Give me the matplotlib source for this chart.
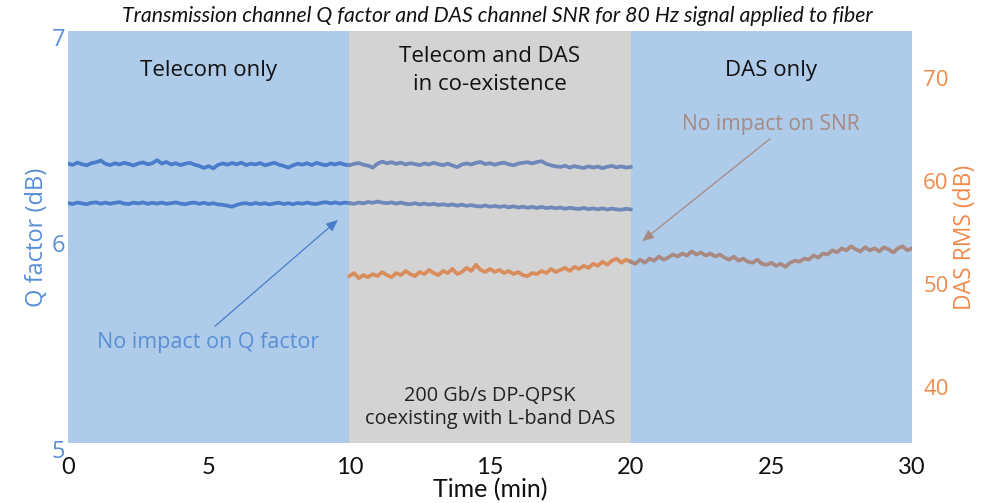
import matplotlib
matplotlib.use("Agg")
import matplotlib.pyplot as plt
from matplotlib.transforms import ScaledTranslation
import numpy as np

# ---- data ----
q_time_start, q_time_end = 0, 20
das_time_start, das_time_end = 10, 30

q_upper = [
    6.356, 6.350, 6.361, 6.353, 6.348, 6.358, 6.363, 6.371, 6.355, 6.349,
    6.358, 6.352, 6.360, 6.354, 6.347, 6.357, 6.362, 6.353, 6.358, 6.373,
    6.356, 6.364, 6.352, 6.358, 6.349, 6.356, 6.360, 6.351, 6.345, 6.335,
    6.344, 6.333, 6.350, 6.357, 6.351, 6.359, 6.353, 6.361, 6.349, 6.356,
    6.352, 6.359, 6.348, 6.354, 6.360, 6.351, 6.345, 6.337, 6.348, 6.356,
    6.351, 6.358, 6.349, 6.360, 6.353, 6.348, 6.357, 6.352, 6.359, 6.351,
    6.349, 6.355, 6.359, 6.351, 6.346, 6.337, 6.356, 6.366, 6.358, 6.363,
    6.355, 6.361, 6.352, 6.358, 6.354, 6.349, 6.357, 6.352, 6.360, 6.353,
    6.349, 6.356, 6.347, 6.339, 6.352, 6.357, 6.352, 6.360, 6.364, 6.354,
    6.358, 6.351, 6.357, 6.361, 6.353, 6.348, 6.356, 6.360, 6.363, 6.357,
    6.364, 6.368, 6.355, 6.348, 6.343, 6.340, 6.346, 6.337, 6.344, 6.339,
    6.335, 6.343, 6.337, 6.342, 6.334, 6.341, 6.345, 6.338, 6.343, 6.337,
    6.340,
]
q_lower = [
    6.164, 6.160, 6.167, 6.163, 6.159, 6.166, 6.168, 6.162, 6.167, 6.161,
    6.166, 6.169, 6.162, 6.160, 6.167, 6.163, 6.168, 6.161, 6.166, 6.162,
    6.167, 6.161, 6.164, 6.168, 6.162, 6.159, 6.165, 6.167, 6.161, 6.166,
    6.160, 6.164, 6.158, 6.156, 6.152, 6.147, 6.156, 6.162, 6.164, 6.159,
    6.165, 6.160, 6.164, 6.158, 6.163, 6.166, 6.160, 6.164, 6.159, 6.165,
    6.161, 6.167, 6.162, 6.160, 6.166, 6.169, 6.163, 6.168, 6.162, 6.167,
    6.164, 6.161, 6.167, 6.163, 6.170, 6.166, 6.172, 6.167, 6.164, 6.168,
    6.162, 6.167, 6.161, 6.159, 6.164, 6.158, 6.162, 6.157, 6.161, 6.155,
    6.159, 6.154, 6.158, 6.152, 6.157, 6.151, 6.155, 6.150, 6.148, 6.153,
    6.147, 6.151, 6.146, 6.150, 6.144, 6.149, 6.143, 6.147, 6.142, 6.146,
    6.141, 6.146, 6.140, 6.144, 6.139, 6.143, 6.137, 6.142, 6.138, 6.136,
    6.141, 6.135, 6.139, 6.134, 6.139, 6.133, 6.138, 6.134, 6.132, 6.137,
    6.134,
]
das_rms = [
    50.2, 50.5, 50.0, 50.3, 50.1, 50.4, 50.2, 50.6, 50.3, 50.1,
    50.5, 50.3, 50.7, 50.4, 50.2, 50.6, 50.4, 50.8, 50.5, 50.3,
    50.7, 50.5, 50.9, 50.4, 50.6, 51.0, 50.7, 51.3, 50.8, 50.6,
    50.9, 50.6, 50.8, 50.5, 50.7, 50.4, 50.6, 50.3, 50.2, 50.5,
    50.4, 50.7, 50.5, 50.9, 50.6, 50.8, 51.0, 50.7, 51.1, 50.9,
    51.2, 51.0, 51.4, 51.2, 51.6, 51.3, 51.7, 51.9, 51.5, 51.8,
    51.6, 51.4, 51.8, 51.5, 51.9, 51.7, 52.1, 51.8, 52.0, 52.3,
    52.1, 52.4, 52.2, 52.6, 52.3, 52.5, 52.2, 52.4, 52.1, 52.3,
    52.0, 51.8, 52.1, 51.7, 51.9, 51.6, 51.5, 51.8, 51.4, 51.3,
    51.5, 51.2, 51.4, 51.1, 51.5, 51.7, 51.6, 51.9, 51.8, 52.2,
    52.0, 52.4, 52.3, 52.7, 52.5, 52.9, 52.7, 53.1, 52.8, 52.6,
    53.0, 52.7, 52.9, 52.6, 53.0, 52.8, 52.5, 52.9, 53.1, 52.7,
    52.9,
]
phases = [(0, 10, "Telecom only"), (10, 20, "Telecom and DAS\nin co-existence"), (20, 30, "DAS only")]
x_ticks = [0, 5, 10, 15, 20, 25, 30]
q_ticks = [5, 6, 7]
das_ticks = [40, 50, 60, 70]

# ---- style ----
BLUE_BG = "#aecbe9"
GRAY_BG = "#d3d3d3"
Q_COL_A = "#4a7cca"
Q_COL_B = "#6e88ba"
D_COL_A = "#da8d5c"
D_COL_B = "#a98a82"
LEFT_TXT = "#5a8fd6"
RIGHT_TXT = "#ef8a4e"
sans = ["Open Sans", "DejaVu Sans"]
cal = ["Lato", "DejaVu Sans"]

fig = plt.figure(figsize=(9.88, 5.03), dpi=100)
ax = fig.add_axes([0.0688, 0.1193, 0.9231 - 0.0688, 0.9384 - 0.1193])
ax.set_xlim(0, 30)
ax.set_ylim(5, 7)

bg = [BLUE_BG, GRAY_BG, BLUE_BG]
for (a, b, lab), c in zip(phases, bg):
    ax.axvspan(a, b, color=c, lw=0, zorder=0)

tq = np.linspace(q_time_start, q_time_end, len(q_upper))
mid = int(np.argmin(np.abs(tq - 10)))
for series in (q_upper, q_lower):
    s = np.array(series)
    ax.plot(tq[:mid + 1], s[:mid + 1], color=Q_COL_A, lw=2.7, zorder=3)
    ax.plot(tq[mid:], s[mid:], color=Q_COL_B, lw=2.7, zorder=3)

ax2 = ax.twinx()
ax2.set_ylim(34, 74)
td = np.linspace(das_time_start, das_time_end, len(das_rms))
dm = int(np.argmin(np.abs(td - 20)))
d = np.array(das_rms)
ax2.plot(td[:dm + 1], d[:dm + 1], color=D_COL_A, lw=2.7, zorder=3)
ax2.plot(td[dm:], d[dm:], color=D_COL_B, lw=2.7, zorder=3)

for a in (ax, ax2):
    for sp in a.spines.values():
        sp.set_visible(False)

ax.set_xticks(x_ticks)
ax.set_xticklabels([str(t) for t in x_ticks], family=cal, fontsize=17, color="#111111")
ax.set_yticks(q_ticks)
ax.set_yticklabels([str(t) for t in q_ticks], family=sans, fontsize=17, color=LEFT_TXT)
ax.tick_params(axis="y", length=0, pad=2)
ax.tick_params(axis="x", length=0, pad=10)
ax2.set_yticks(das_ticks)
ax2.set_yticklabels([str(t) for t in das_ticks], family=sans, fontsize=16, color=RIGHT_TXT)
ax2.tick_params(axis="y", length=0, pad=8)

shift = ScaledTranslation(0, -4 / 72, fig.dpi_scale_trans)
for lab in ax.get_yticklabels() + ax2.get_yticklabels():
    lab.set_transform(lab.get_transform() + shift)

ax.set_xlabel("Time (min)", family=cal, fontsize=18, color="#111111", labelpad=0)
ax.set_ylabel("Q factor (dB)", family=sans, fontsize=17, color=LEFT_TXT, labelpad=2)
ax2.set_ylabel("DAS RMS (dB)", family=sans, fontsize=16.5, color=RIGHT_TXT, labelpad=3)

fig.text(0.503, 0.968, "Transmission channel Q factor and DAS channel SNR for 80 Hz signal applied to fiber",
         family=cal, style="italic", fontsize=15.3, ha="center", va="center", color="#111111")

for a, b, lab in phases:
    ax.text((a + b) / 2, 6.81, lab, family=sans, fontsize=16, ha="center", va="center",
            color="#111111", linespacing=1.45, zorder=5)

ax.text(15, 5.17, "200 Gb/s DP-QPSK\ncoexisting with L-band DAS", family=sans, fontsize=14.3,
        ha="center", va="center", color="#222222", linespacing=1.2, zorder=5)

ax.annotate("", xy=(9.67, 6.092), xytext=(5.15, 5.558),
            arrowprops=dict(arrowstyle="-|>,head_length=0.7,head_width=0.3", color=Q_COL_A, lw=0.9), zorder=4)
ax.text(4.98, 5.49, "No impact on Q factor", family=sans, fontsize=15.5, ha="center", va="center",
        color=LEFT_TXT, zorder=5)

ax.annotate("", xy=(20.33, 5.971), xytext=(25.03, 6.485),
            arrowprops=dict(arrowstyle="-|>,head_length=0.7,head_width=0.3", color=D_COL_B, lw=0.9), zorder=4)
ax.text(25.0, 6.544, "No impact on SNR", family=sans, fontsize=15.2, ha="center", va="center",
        color=D_COL_B, zorder=5)

fig.savefig("out.png", dpi=100)
